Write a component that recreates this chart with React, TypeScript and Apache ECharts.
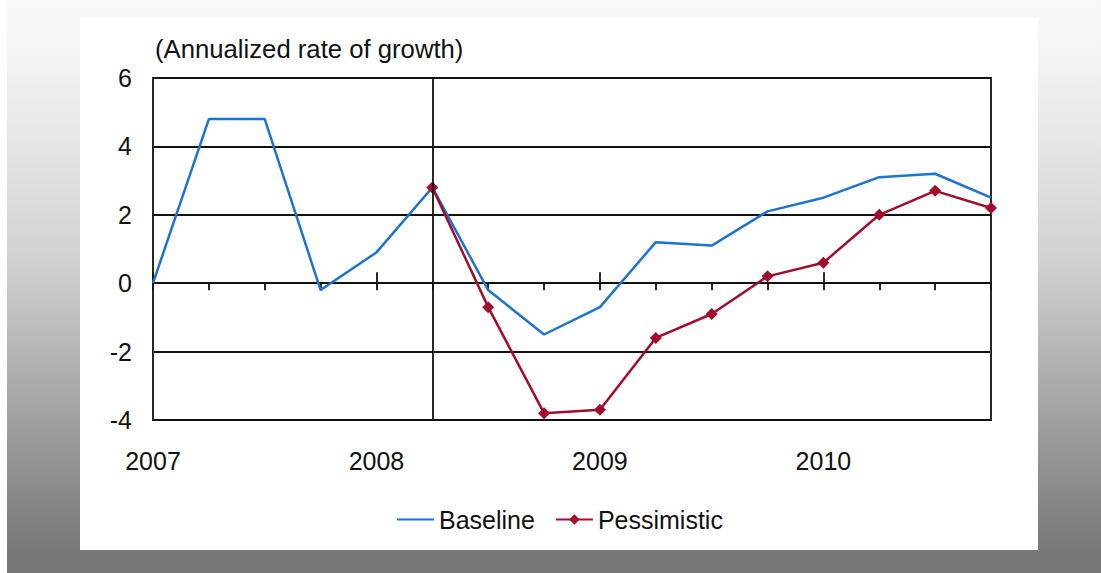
import React, { useEffect, useRef } from "react";
import * as echarts from "echarts";

const categories = [
  "2007 Q1", "2007 Q2", "2007 Q3", "2007 Q4",
  "2008 Q1", "2008 Q2", "2008 Q3", "2008 Q4",
  "2009 Q1", "2009 Q2", "2009 Q3", "2009 Q4",
  "2010 Q1", "2010 Q2", "2010 Q3", "2010 Q4",
];
const baseline = [0, 4.8, 4.8, -0.2, 0.9, 2.8, -0.2, -1.5, -0.7, 1.2, 1.1, 2.1, 2.5, 3.1, 3.2, 2.5];
const pessimistic: (number | null)[] = [null, null, null, null, null, 2.8, -0.7, -3.8, -3.7, -1.6, -0.9, 0.2, 0.6, 2.0, 2.7, 2.2];
const forecastStartIndex = 5;
const yMin = -4;
const yMax = 6;
const yInterval = 2;
const titleText = "(Annualized rate of growth)";

const FONT = "'Liberation Sans', Arial, sans-serif";
const BLUE = "#1c73d3";
const RED = "#a30d2b";
const INK = "#111";
const LW = 1.8;

export default function App() {
  const ref = useRef<HTMLDivElement>(null);
  useEffect(() => {
    document.body.style.margin = "0";
    if (!ref.current) return;
    const chart = echarts.init(ref.current, undefined, { renderer: "svg" });
    const gridRect = { left: 73, top: 60, width: 838, height: 342 };
    const hiddenY = (gridIndex: number) => ({
      gridIndex,
      type: "value",
      min: yMin,
      max: yMax,
      interval: yInterval,
      axisLine: { show: false },
      axisTick: { show: false },
      splitLine: { show: false },
      axisLabel: { show: false },
    });
    chart.setOption({
      animation: false,
      backgroundColor: "#ffffff",
      textStyle: { fontFamily: FONT },
      title: {
        text: titleText,
        left: 70,
        top: 13,
        textStyle: { fontSize: 25.7, fontWeight: "normal", color: INK, fontFamily: FONT },
      },
      legend: {
        left: 311,
        top: 484,
        itemWidth: 37,
        itemHeight: 13,
        itemGap: 20,
        textStyle: { fontSize: 25, color: INK, fontFamily: FONT },
        data: [
          { name: "Baseline", itemStyle: { opacity: 0 } },
          { name: "Pessimistic" },
        ],
      },
      grid: [
        { ...gridRect, show: true, borderColor: INK, borderWidth: LW, backgroundColor: "transparent" },
        { ...gridRect, show: false },
        { ...gridRect, show: false },
      ],
      xAxis: [
        {
          gridIndex: 0,
          type: "category",
          data: categories,
          boundaryGap: false,
          position: "bottom",
          axisLine: { show: false, onZero: false },
          axisTick: { show: false },
          splitLine: { show: false },
          axisLabel: {
            interval: 3,
            margin: 28,
            fontSize: 25,
            color: INK,
            fontFamily: FONT,
            formatter: (v: string) => v.slice(0, 4),
          },
        },
        {
          gridIndex: 1,
          type: "category",
          data: categories,
          boundaryGap: false,
          position: "bottom",
          axisLine: { show: true, onZero: true, lineStyle: { color: INK, width: LW } },
          axisTick: { show: true, interval: 0, length: 7, lineStyle: { color: INK, width: LW } },
          axisLabel: { show: false },
          splitLine: { show: false },
        },
        {
          gridIndex: 2,
          type: "category",
          data: categories,
          boundaryGap: false,
          position: "top",
          axisLine: { show: false, onZero: true },
          axisTick: { show: true, interval: 3, length: 11, lineStyle: { color: INK, width: LW } },
          axisLabel: { show: false },
          splitLine: { show: false },
        },
      ],
      yAxis: [
        {
          gridIndex: 0,
          type: "value",
          min: yMin,
          max: yMax,
          interval: yInterval,
          axisLine: { show: false },
          axisTick: { show: false },
          splitLine: { show: true, lineStyle: { color: INK, width: LW } },
          axisLabel: { margin: 21, fontSize: 25, color: INK, fontFamily: FONT },
        },
        hiddenY(1),
        hiddenY(2),
      ],
      series: [
        {
          name: "Baseline",
          type: "line",
          xAxisIndex: 0,
          yAxisIndex: 0,
          data: baseline,
          symbol: "none",
          lineStyle: { color: BLUE, width: 2.5 },
          itemStyle: { color: BLUE },
          z: 3,
          markLine: {
            silent: true,
            symbol: "none",
            label: { show: false },
            lineStyle: { color: INK, width: LW, type: "solid" },
            data: [{ xAxis: forecastStartIndex }],
          },
        },
        {
          name: "Pessimistic",
          type: "line",
          xAxisIndex: 0,
          yAxisIndex: 0,
          data: pessimistic,
          symbol: "diamond",
          symbolSize: 12,
          lineStyle: { color: RED, width: 2.5 },
          itemStyle: { color: RED },
          z: 4,
        },
      ],
    });
    return () => chart.dispose();
  }, []);

  return (
    <div style={{ position: "fixed", left: 0, top: 0, width: 1101, height: 573, background: "#ffffff" }}>
      <div
        style={{
          position: "absolute",
          left: 7,
          top: 0,
          width: 1094,
          height: 573,
          background:
            "linear-gradient(to bottom, #f9f9f9 0%, #f2f2f2 12%, #d2d2d2 45%, #a6a6a6 70%, #868686 88%, #777777 97%, #777777 100%)",
        }}
      />
      <div ref={ref} style={{ position: "absolute", left: 80, top: 18, width: 958, height: 532 }} />
    </div>
  );
}
